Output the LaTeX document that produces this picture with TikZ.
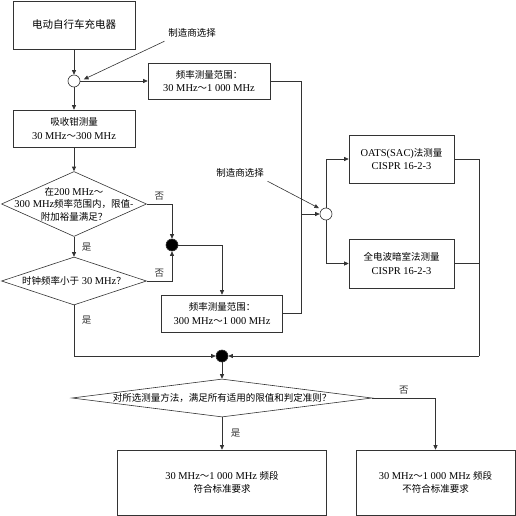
\documentclass[tikz,border=0pt]{standalone}
\usepackage{fontspec}
\setmainfont{Liberation Serif}[Scale=1.1]
\newfontfamily\cjk{Noto Sans CJK SC}
\usepackage{tikz}
\usetikzlibrary{shapes.geometric, arrows.meta, calc}
\newcommand{\zh}[1]{{\cjk #1}}
\tikzset{
  block/.style={rectangle, draw=black!80, line width=0.6pt, align=center, font=\fontsize{9.5}{13.5}\selectfont, inner sep=0pt},
  decide/.style={diamond, draw=black!80, line width=0.6pt, inner sep=0pt},
  junction/.style={circle, draw=black!80, line width=0.6pt, minimum size=12pt, inner sep=0pt},
  blackdot/.style={junction, fill=black},
  note/.style={font=\fontsize{9.5}{12.5}\selectfont},
  arrow/.style={-{Triangle[length=4.5pt,width=4pt]}, line width=0.6pt, color=black!80},
  line/.style={line width=0.6pt, color=black!80}
}
\begin{document}
\begin{tikzpicture}[x=1pt, y=-1pt]
  \useasboundingbox (0,0) rectangle (516,516);

  % Left column
  \node[block, minimum width=122pt, minimum height=48pt, font=\fontsize{10.5}{13}\selectfont] (charger) at (74,25) {\zh{电动自行车充电器}};
  \node[junction] (sel1) at (74,81) {};
  \node[note] (mfr1) at (192,33) {\zh{制造商选择}};
  \node[block, minimum width=122pt, minimum height=36pt] (band1) at (209,81) {\zh{频率测量范围：}\\30 MHz\zh{～}1 000 MHz};
  \node[block, minimum width=122pt, minimum height=37pt] (clamp) at (74,128.5) {\zh{吸收钳测量}\\30 MHz\zh{～}300 MHz};
  \node[decide, minimum width=145pt, minimum height=65pt, label={[note, align=center]center:{\zh{在}200 MHz\zh{～}\\300 MHz\zh{频率范围内，限值-}\\\zh{附加裕量满足？}}}] (margin) at (74,204) {};
  \node[decide, minimum width=145pt, minimum height=48pt, label={[note]center:{\zh{时钟频率小于} 30 MHz\zh{？}}}] (clock) at (74,281) {};
  \node[blackdot] (join1) at (172,245) {};
  \node[block, minimum width=121pt, minimum height=37pt] (band2) at (222,313.5) {\zh{频率测量范围：}\\300 MHz\zh{～}1 000 MHz};

  % Right column
  \node[junction] (sel2) at (326,214) {};
  \node[note] (mfr2) at (240,173) {\zh{制造商选择}};
  \node[block, minimum width=105pt, minimum height=48pt] (oats) at (401.5,159) {OATS(SAC)\zh{法测量}\\CISPR 16-2-3};
  \node[block, minimum width=105pt, minimum height=49pt] (far) at (401.5,263.5) {\zh{全电波暗室法测量}\\CISPR 16-2-3};
  \coordinate (merge1) at (301,214);
  \coordinate (merge2) at (479,356);

  % Bottom
  \node[blackdot] (join2) at (222,356) {};
  \node[decide, minimum width=300pt, minimum height=38pt, label={[note]center:{\zh{对所选测量方法，满足所有适用的限值和判定准则？}}}] (verdict) at (222,398) {};
  \node[block, minimum width=209pt, minimum height=65pt] (pass) at (222,482.5) {30 MHz\zh{～}1 000 MHz \zh{频段}\\\zh{符合标准要求}};
  \node[block, minimum width=159pt, minimum height=65pt] (fail) at (435.5,482.5) {30 MHz\zh{～}1 000 MHz \zh{频段}\\\zh{不符合标准要求}};

  % Connectors
  \draw[arrow] (charger) -- (sel1);
  \draw[arrow, shorten >=4pt] (mfr1.south west) -- (sel1.east);
  \draw[arrow] (sel1) -- (band1);
  \draw[arrow] (sel1) -- (clamp);
  \draw[arrow] (clamp) -- (margin);
  \draw[arrow] (margin.east) -| (join1.north) node[note, pos=0.25, above] (no1) {\zh{否}};
  \draw[arrow] (clock.east) -| (join1.south) node[note, pos=0.25, above] (no2) {\zh{否}};
  \draw[arrow] (margin) -- (clock) node[note, midway, right, xshift=4pt] (yes1) {\zh{是}};
  \draw[arrow] (join1) -| (band2);
  \draw[line] (band1) -| (merge1);
  \draw[line] (band2) -| (merge1);
  \draw[arrow] (merge1) -- (sel2);
  \draw[arrow, shorten >=3pt] (mfr2.south east) -- (sel2.north west);
  \draw[arrow] (sel2) |- (oats);
  \draw[arrow] (sel2) |- (far);
  \draw[line] (oats) -| (merge2);
  \draw[line] (far) -- (far -| merge2);
  \draw[arrow] (merge2) -- (join2);
  \draw[arrow] (clock.south) |- (join2) node[note, pos=0.15, right, xshift=4pt] (yes2) {\zh{是}};
  \draw[arrow] (join2) -- (verdict);
  \draw[arrow] (verdict) -- (pass) node[note, midway, right, xshift=5pt] (yes3) {\zh{是}};
  \draw[arrow] (verdict.east) -| (fail.north) node[note, pos=0.25, above] (no3) {\zh{否}};
\end{tikzpicture}
\end{document}
